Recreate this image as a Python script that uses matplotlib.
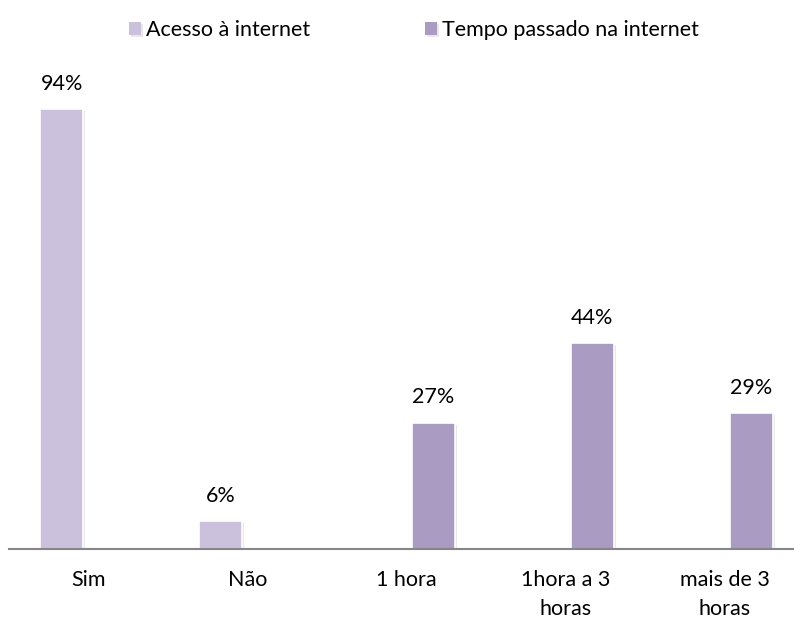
import matplotlib.pyplot as plt
import matplotlib.patheffects as pe
import numpy as np

plt.rcParams['font.family'] = ['Lato', 'DejaVu Sans']

categorias = ["Sim", "Não", "1 hora", "1hora a 3\nhoras", "mais de 3\nhoras"]
acesso = [94, 6, None, None, None]
tempo = [None, None, 27, 44, 29]
series = ["Acesso à internet", "Tempo passado na internet"]
cores = ["#CBC1DD", "#A99BC2"]

fig = plt.figure(figsize=(7.94, 6.26), dpi=100)
ax = fig.add_axes([9 / 794, 1 - 549 / 626, 795 / 794, 440 / 626 / 0.94])

x = np.arange(len(categorias))
larg = 0.27
desloc = 0.167
sombra = [pe.SimplePatchShadow(offset=(1.5, -1.5), alpha=0.18, shadow_rgbFace="#808080"), pe.Normal()]

for valores, d, cor, nome in zip([acesso, tempo], [-desloc, desloc], cores, series):
    xs = [xi + d for xi, v in zip(x, valores) if v is not None]
    vs = [v for v in valores if v is not None]
    barras = ax.bar(xs, vs, width=larg, color=cor, edgecolor="white", linewidth=1.2, label=nome)
    for b in barras:
        b.set_path_effects(sombra)
    for xi, v in zip(xs, vs):
        ax.annotate(f"{v}%", (xi, v), xytext=(0, 11), textcoords="offset points",
                    ha="center", va="bottom", fontsize=15.5)

ax.set_xlim(-0.5, 4.5)
ax.set_ylim(0, 100)
ax.set_xticks(x)
ax.set_xticklabels(categorias, fontsize=15.5, linespacing=1.6)
ax.tick_params(axis="x", length=0, pad=15)
ax.set_yticks([])
for s in ["top", "right", "left"]:
    ax.spines[s].set_visible(False)
ax.spines["bottom"].set_color("#868686")
ax.spines["bottom"].set_linewidth(1.5)

leg = fig.legend(loc="center", bbox_to_anchor=(414 / 794, 1 - 30 / 626), ncol=2, frameon=False,
                 fontsize=15.5, handlelength=0.55, handleheight=0.55, columnspacing=5.3,
                 handletextpad=0.25)
for h in leg.legend_handles:
    h.set_edgecolor("none")

fig.savefig("out.png", dpi=100)
